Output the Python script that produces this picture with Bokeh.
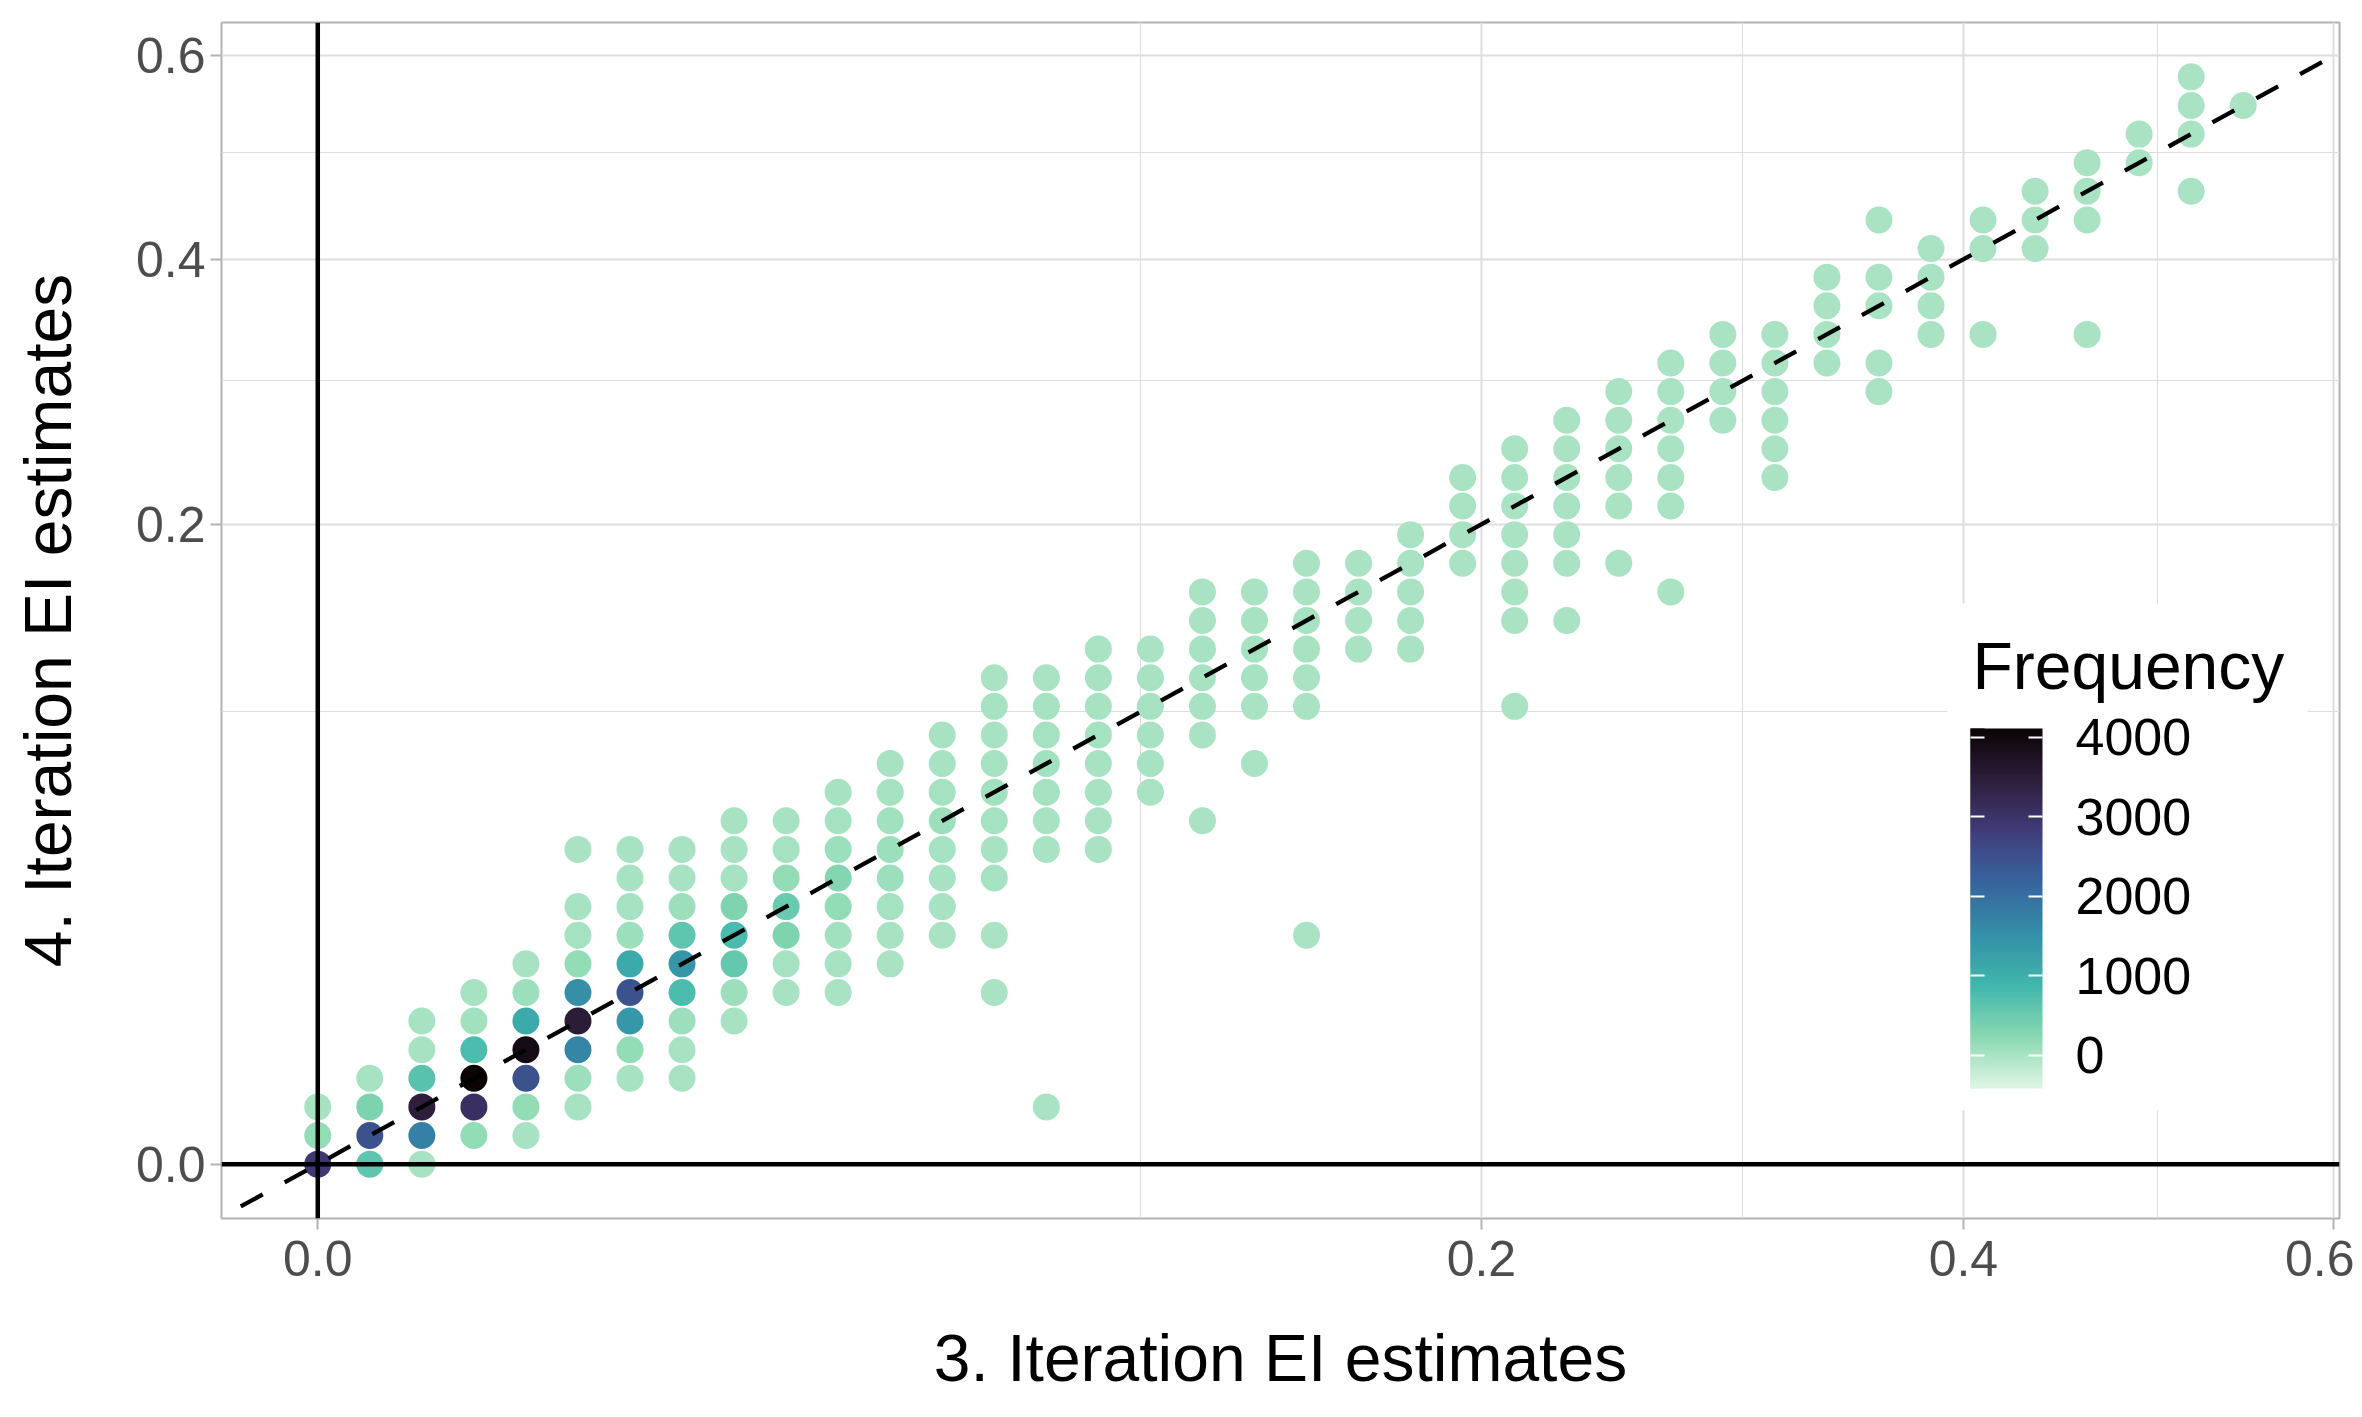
import numpy as np
from bokeh.plotting import figure
from bokeh.models import (ColumnDataSource, Range1d, FixedTicker, CustomJSTickFormatter,
                          LinearColorMapper, ColorBar, Span, Slope, PrintfTickFormatter,
                          Label, BoxAnnotation)
from bokeh.embed import file_html
from bokeh.resources import INLINE

# ---------------- data (EI estimates, original units) ----------------
x_est3 = [
    0.0, 0.0, 0.0,
    0.0004, 0.0004, 0.0004, 0.0004,
    0.0016, 0.0016, 0.0016, 0.0016, 0.0016, 0.0016,
    0.0036, 0.0036, 0.0036, 0.0036, 0.0036, 0.0036,
    0.0064, 0.0064, 0.0064, 0.0064, 0.0064, 0.0064, 0.0064,
    0.01, 0.01, 0.01, 0.01, 0.01, 0.01, 0.01, 0.01, 0.01,
    0.0144, 0.0144, 0.0144, 0.0144, 0.0144, 0.0144, 0.0144, 0.0144, 0.0144,
    0.0196, 0.0196, 0.0196, 0.0196, 0.0196, 0.0196, 0.0196, 0.0196, 0.0196,
    0.0256, 0.0256, 0.0256, 0.0256, 0.0256, 0.0256, 0.0256, 0.0256,
    0.0324, 0.0324, 0.0324, 0.0324, 0.0324, 0.0324, 0.0324,
    0.04, 0.04, 0.04, 0.04, 0.04, 0.04, 0.04, 0.04,
    0.0484, 0.0484, 0.0484, 0.0484, 0.0484, 0.0484, 0.0484, 0.0484,
    0.0576, 0.0576, 0.0576, 0.0576, 0.0576, 0.0576, 0.0576, 0.0576,
    0.0676, 0.0676, 0.0676, 0.0676, 0.0676, 0.0676, 0.0676, 0.0676, 0.0676, 0.0676,
    0.0784, 0.0784, 0.0784, 0.0784, 0.0784, 0.0784, 0.0784, 0.0784,
    0.09, 0.09, 0.09, 0.09, 0.09, 0.09, 0.09, 0.09,
    0.1024, 0.1024, 0.1024, 0.1024, 0.1024, 0.1024,
    0.1156, 0.1156, 0.1156, 0.1156, 0.1156, 0.1156, 0.1156,
    0.1296, 0.1296, 0.1296, 0.1296, 0.1296, 0.1296,
    0.1444, 0.1444, 0.1444, 0.1444, 0.1444, 0.1444, 0.1444,
    0.16, 0.16, 0.16, 0.16,
    0.1764, 0.1764, 0.1764, 0.1764, 0.1764,
    0.1936, 0.1936, 0.1936, 0.1936,
    0.2116, 0.2116, 0.2116, 0.2116, 0.2116, 0.2116, 0.2116, 0.2116,
    0.2304, 0.2304, 0.2304, 0.2304, 0.2304, 0.2304, 0.2304,
    0.25, 0.25, 0.25, 0.25, 0.25, 0.25,
    0.2704, 0.2704, 0.2704, 0.2704, 0.2704, 0.2704, 0.2704,
    0.2916, 0.2916, 0.2916, 0.2916,
    0.3136, 0.3136, 0.3136, 0.3136, 0.3136, 0.3136,
    0.3364, 0.3364, 0.3364, 0.3364,
    0.36, 0.36, 0.36, 0.36, 0.36,
    0.3844, 0.3844, 0.3844, 0.3844,
    0.4096, 0.4096, 0.4096,
    0.4356, 0.4356, 0.4356,
    0.4624, 0.4624, 0.4624, 0.4624,
    0.49, 0.49,
    0.5184, 0.5184, 0.5184, 0.5184,
    0.5476,
]

y_est4 = [
    0.0, 0.0004, 0.0016,
    0.0, 0.0004, 0.0016, 0.0036,
    0.0, 0.0004, 0.0016, 0.0036, 0.0064, 0.01,
    0.0004, 0.0016, 0.0036, 0.0064, 0.01, 0.0144,
    0.0004, 0.0016, 0.0036, 0.0064, 0.01, 0.0144, 0.0196,
    0.0016, 0.0036, 0.0064, 0.01, 0.0144, 0.0196, 0.0256, 0.0324, 0.0484,
    0.0036, 0.0064, 0.01, 0.0144, 0.0196, 0.0256, 0.0324, 0.04, 0.0484,
    0.0036, 0.0064, 0.01, 0.0144, 0.0196, 0.0256, 0.0324, 0.04, 0.0484,
    0.01, 0.0144, 0.0196, 0.0256, 0.0324, 0.04, 0.0484, 0.0576,
    0.0144, 0.0196, 0.0256, 0.0324, 0.04, 0.0484, 0.0576,
    0.0144, 0.0196, 0.0256, 0.0324, 0.04, 0.0484, 0.0576, 0.0676,
    0.0196, 0.0256, 0.0324, 0.04, 0.0484, 0.0576, 0.0676, 0.0784,
    0.0256, 0.0324, 0.04, 0.0484, 0.0576, 0.0676, 0.0784, 0.09,
    0.0144, 0.0256, 0.04, 0.0484, 0.0576, 0.0676, 0.0784, 0.09, 0.1024, 0.1156,
    0.0016, 0.0484, 0.0576, 0.0676, 0.0784, 0.09, 0.1024, 0.1156,
    0.0484, 0.0576, 0.0676, 0.0784, 0.09, 0.1024, 0.1156, 0.1296,
    0.0676, 0.0784, 0.09, 0.1024, 0.1156, 0.1296,
    0.0576, 0.09, 0.1024, 0.1156, 0.1296, 0.1444, 0.16,
    0.0784, 0.1024, 0.1156, 0.1296, 0.1444, 0.16,
    0.0256, 0.1024, 0.1156, 0.1296, 0.1444, 0.16, 0.1764,
    0.1296, 0.1444, 0.16, 0.1764,
    0.1296, 0.1444, 0.16, 0.1764, 0.1936,
    0.1764, 0.1936, 0.2116, 0.2304,
    0.1024, 0.1444, 0.16, 0.1764, 0.1936, 0.2116, 0.2304, 0.25,
    0.1444, 0.1764, 0.1936, 0.2116, 0.2304, 0.25, 0.2704,
    0.1764, 0.2116, 0.2304, 0.25, 0.2704, 0.2916,
    0.16, 0.2116, 0.2304, 0.25, 0.2704, 0.2916, 0.3136,
    0.2704, 0.2916, 0.3136, 0.3364,
    0.2304, 0.25, 0.2704, 0.2916, 0.3136, 0.3364,
    0.3136, 0.3364, 0.36, 0.3844,
    0.2916, 0.3136, 0.36, 0.3844, 0.4356,
    0.3364, 0.36, 0.3844, 0.4096,
    0.3364, 0.4096, 0.4356,
    0.4096, 0.4356, 0.4624,
    0.3364, 0.4356, 0.4624, 0.49,
    0.49, 0.5184,
    0.4624, 0.5184, 0.5476, 0.5776,
    0.5476,
]

freq = [
    2900, 170, 15,
    620, 2480, 350, 15,
    20, 1760, 3460, 680, 20, 10,
    170, 3070, 4100, 780, 60, 15,
    20, 170, 2480, 3930, 1120, 100, 15,
    15, 100, 1670, 3520, 1530, 170, 30, 15, 5,
    25, 170, 1400, 2480, 1120, 110, 40, 15, 10,
    10, 20, 90, 780, 1420, 620, 90, 25, 15,
    10, 80, 560, 800, 330, 40, 20, 10,
    10, 30, 330, 530, 170, 30, 15,
    5, 10, 60, 170, 300, 110, 30, 10,
    5, 15, 30, 100, 100, 60, 30, 10,
    5, 10, 20, 40, 80, 40, 20, 10,
    2, 3, 10, 15, 30, 50, 40, 20, 10, 5,
    1, 5, 15, 30, 50, 30, 15, 8,
    3, 5, 10, 20, 30, 20, 10, 5,
    5, 10, 20, 25, 15, 6,
    1, 8, 15, 20, 12, 6, 3,
    2, 6, 12, 15, 10, 4,
    1, 4, 8, 10, 12, 8, 3,
    4, 8, 8, 4,
    2, 5, 7, 6, 3,
    3, 5, 4, 2,
    1, 1, 2, 3, 4, 4, 3, 2,
    1, 2, 3, 3, 3, 2, 1,
    1, 2, 2, 3, 2, 1,
    1, 1, 2, 2, 2, 2, 1,
    1, 2, 2, 1,
    1, 1, 1, 2, 2, 1,
    1, 2, 1, 1,
    1, 1, 1, 1, 1,
    1, 1, 2, 1,
    1, 1, 1,
    1, 1, 1,
    1, 1, 1, 1,
    1, 1,
    1, 1, 1, 1,
    1,
]

axis_ticks = [0.0, 0.2, 0.4, 0.6]
axis_minor_ticks = [0.1, 0.3, 0.5]
legend_ticks = [0, 1000, 2000, 3000, 4000]
freq_low, freq_high = -416, 4113

x_label = "3. Iteration EI estimates"
y_label = "4. Iteration EI estimates"
legend_title = "Frequency"

# mako colour map anchors (dark -> light)
mako_anchors = ["#0B0405", "#2E1E3C", "#413D7B", "#37659E",
                "#348FA7", "#40B7AD", "#8AD9B1", "#DEF5E5"]

assert len(x_est3) == len(y_est4) == len(freq)


def build_palette(anchors, n=256):
    rgb = np.array([[int(h[k:k + 2], 16) for k in (1, 3, 5)] for h in anchors], float)
    pos = np.linspace(0, 1, len(anchors))
    out = []
    for t in np.linspace(0, 1, n):
        r, g, b = (np.interp(t, pos, rgb[:, c]) for c in range(3))
        out.append("#%02x%02x%02x" % (int(round(r)), int(round(g)), int(round(b))))
    return out


palette = build_palette(mako_anchors[::-1])  # light for low counts, dark for high
mapper = LinearColorMapper(palette=palette, low=freq_low, high=freq_high)

FONT = "Liberation Sans"
FRAME_W, FRAME_H = 2118, 1196

# square-root transformed axes
src = ColumnDataSource(dict(sx=np.sqrt(np.array(x_est3)),
                            sy=np.sqrt(np.array(y_est4)),
                            freq=freq))

p = figure(frame_width=FRAME_W, frame_height=FRAME_H,
           x_range=Range1d(-0.037, 0.777), y_range=Range1d(-0.038, 0.798),
           output_backend="svg", toolbar_location=None,
           min_border_left=221, min_border_right=15,
           min_border_top=22, min_border_bottom=183)
p.background_fill_color = "white"
p.border_fill_color = "white"
p.outline_line_color = "#B3B3B3"
p.outline_line_width = 2

major_pos = [float(np.sqrt(v)) for v in axis_ticks]
minor_pos = [float(np.sqrt(v)) for v in axis_minor_ticks]
fmt_code = "return (tick*tick).toFixed(1);"

for axis, grid, lab in ((p.xaxis[0], p.xgrid[0], x_label), (p.yaxis[0], p.ygrid[0], y_label)):
    tk = FixedTicker(ticks=major_pos, minor_ticks=minor_pos)
    axis.ticker = tk
    grid.ticker = tk
    axis.formatter = CustomJSTickFormatter(code=fmt_code)
    axis.axis_label = lab
    axis.axis_label_text_font = FONT
    axis.axis_label_text_font_size = "66px"
    axis.axis_label_text_font_style = "normal"
    axis.axis_label_text_color = "black"
    axis.major_label_text_font = FONT
    axis.major_label_text_font_size = "50px"
    axis.major_label_text_color = "#4D4D4D"
    axis.axis_line_color = None
    axis.major_tick_line_color = "#B3B3B3"
    axis.major_tick_line_width = 2
    axis.major_tick_in = 0
    axis.major_tick_out = 11
    axis.minor_tick_line_color = None
    grid.grid_line_color = "#DEDEDE"
    grid.grid_line_width = 2
    grid.minor_grid_line_color = "#DEDEDE"
    grid.minor_grid_line_width = 1

p.xaxis.major_label_standoff = 11
p.yaxis.major_label_standoff = 5
p.xaxis.axis_label_standoff = 42
p.yaxis.axis_label_standoff = 48

p.scatter(x="sx", y="sy", source=src, size=27, marker="circle",
          fill_color={"field": "freq", "transform": mapper}, line_color=None)

p.add_layout(Span(location=0, dimension="width", line_color="black", line_width=4.5))
p.add_layout(Span(location=0, dimension="height", line_color="black", line_width=4.5))
p.add_layout(Slope(gradient=1, y_intercept=0, line_color="black", line_width=4.3,
                   line_dash="25 25", line_dash_offset=25))

# legend (inside the panel, positions in screen pixels from the frame's bottom-left)
p.add_layout(BoxAnnotation(left=1726, right=2086, bottom=108, top=615,
                           left_units="screen", right_units="screen",
                           bottom_units="screen", top_units="screen",
                           fill_color="white", fill_alpha=1.0, line_color=None))

cb = ColorBar(color_mapper=mapper, ticker=FixedTicker(ticks=legend_ticks),
              formatter=PrintfTickFormatter(format="%d"),
              width=72, height=360, location=(1749, 130),
              major_label_text_font=FONT, major_label_text_font_size="52px",
              major_label_text_color="black", label_standoff=33,
              major_tick_line_color="white", major_tick_line_width=2,
              major_tick_in=14, major_tick_out=0,
              bar_line_color=None, border_line_color=None,
              background_fill_color=None, background_fill_alpha=0.0,
              padding=0)
p.add_layout(cb)

# narrow strip over the left edge of the bar, giving the left-hand white ticks
cb_left = ColorBar(color_mapper=mapper, ticker=FixedTicker(ticks=legend_ticks),
                   formatter=PrintfTickFormatter(format="%d"),
                   width=14, height=360, location=(1749, 130),
                   major_label_text_color=None, major_label_text_font_size="10px",
                   label_standoff=0,
                   major_tick_line_color="white", major_tick_line_width=2,
                   major_tick_in=14, major_tick_out=0,
                   bar_line_color=None, border_line_color=None,
                   background_fill_color=None, background_fill_alpha=0.0,
                   padding=0)
p.add_layout(cb_left)

p.add_layout(Label(x=1751, y=553, x_units="screen", y_units="screen",
                   text=legend_title, text_font=FONT, text_font_size="66px",
                   text_color="black", text_align="left", text_baseline="alphabetic"))

open("out.html", "w").write(file_html(p, INLINE))
